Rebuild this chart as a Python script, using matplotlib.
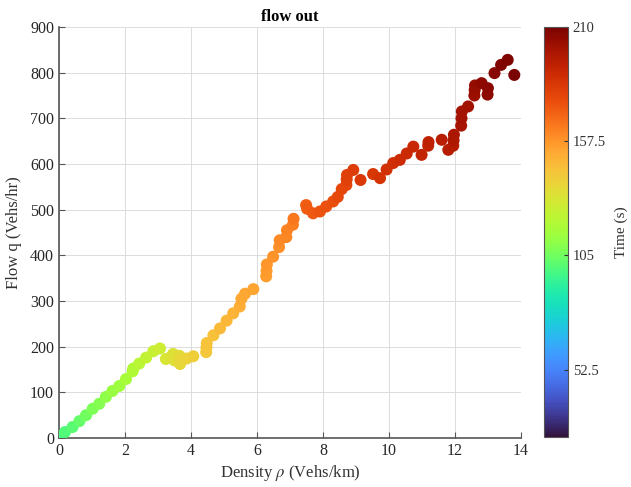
import numpy as np
import matplotlib
matplotlib.use('Agg')
import matplotlib.pyplot as plt

plt.rcParams['font.family'] = ['Liberation Serif', 'DejaVu Serif']
plt.rcParams['mathtext.fontset'] = 'stix'

# Density (Vehs/km)
density = [0.00, 0.18, 0.41, 0.62, 0.82, 1.02, 1.22, 1.42, 1.62, 1.83,
           2.03, 2.23, 2.25, 2.43, 2.64, 2.86, 3.06,
           3.24, 3.40, 3.46, 3.50, 3.65, 3.67, 3.70, 3.87, 4.07,
           4.46, 4.47, 4.48, 4.68, 4.88, 5.08, 5.28, 5.48, 5.53, 5.64,
           5.89, 6.28, 6.29, 6.30, 6.49, 6.67, 6.69, 6.89, 6.91, 7.09, 7.11,
           7.49, 7.52, 7.70, 7.91, 8.10, 8.31, 8.45, 8.57, 8.71, 8.72,
           8.73, 8.92, 9.14, 9.52, 9.73, 9.93, 10.13, 10.33, 10.54, 10.74,
           10.99, 11.19, 11.20, 11.60, 11.80, 11.95, 11.96, 11.97, 12.19,
           12.20, 12.21, 12.40, 12.59, 12.60, 12.61, 12.81, 12.99, 13.00,
           13.20, 13.40, 13.60, 13.80]

# Flow (Vehs/hr)
flow = [0, 13, 24, 37, 50, 64, 75, 90, 103, 114,
        129, 146, 152, 163, 176, 190, 196,
        173, 178, 184, 170, 180, 162, 172, 174, 179,
        188, 198, 208, 225, 240, 257, 273, 288, 305, 316,
        326, 354, 366, 380, 397, 418, 433, 440, 455, 467, 480,
        510, 502, 492, 496, 507, 518, 528, 545, 554, 566,
        576, 587, 565, 578, 569, 588, 602, 609, 623, 638,
        620, 640, 648, 653, 631, 640, 652, 664, 684,
        700, 715, 726, 750, 762, 772, 777, 752, 766,
        799, 817, 828, 795]

# Time (s)
time = [97, 99, 101, 103, 105, 107, 109, 111, 113, 115,
        117, 119, 120, 122, 124, 126, 128,
        131, 132, 133, 134, 135, 136, 137, 138, 140,
        142, 143, 144, 145, 147, 148, 149, 151, 152, 153,
        154, 155, 156, 157, 158, 159, 160, 161, 162, 163, 165,
        171, 172, 173, 174, 175, 176, 177, 178, 179, 180,
        181, 182, 183, 184, 185, 186, 187, 188, 189, 190,
        191, 192, 193, 194, 195, 196, 197, 198, 199,
        200, 200, 201, 202, 203, 204, 205, 206, 206,
        207, 208, 209, 210]

cb_ticks = [52.5, 105, 157.5, 210]

fig = plt.figure(figsize=(6.31, 4.87), dpi=100)
ax = fig.add_axes([0.0935, 0.1006, 0.732, 0.844])
cax = fig.add_axes([0.862, 0.1027, 0.038, 0.842])

sc = ax.scatter(density, flow, c=time, cmap='turbo', vmin=21.5, vmax=210,
                s=75, edgecolors='none', zorder=3)

ax.set_xlim(0, 14)
ax.set_ylim(0, 900)
ax.set_xticks(range(0, 15, 2))
ax.set_yticks(range(0, 901, 100))
ax.grid(True, color='#dcdcdc', linewidth=0.7)
ax.set_axisbelow(True)
for s in ['top', 'right']:
    ax.spines[s].set_visible(False)
for s in ['left', 'bottom']:
    ax.spines[s].set_color('#555555')
    ax.spines[s].set_linewidth(1.2)
ax.tick_params(direction='in', length=4, labelsize=11.5, color='#555555',
               labelcolor='#262626')
ax.set_xlabel(r'Density $\rho$ (Vehs/km)', fontsize=12, color='#333333', labelpad=3)
ax.set_ylabel('Flow q (Vehs/hr)', fontsize=12, color='#333333', labelpad=6)
ax.set_title('flow out', fontsize=12, fontweight='bold', pad=4)

cb = fig.colorbar(sc, cax=cax, ticks=cb_ticks)
cb.ax.set_yticklabels(['52.5', '105', '157.5', '210'])
cb.ax.tick_params(direction='in', length=3, labelsize=10.5, color='#333333',
                  labelcolor='#333333')
cb.outline.set_edgecolor('#555555')
cb.set_label('Time (s)', fontsize=11, labelpad=6, color='#333333')

fig.savefig('out.png', dpi=100)
